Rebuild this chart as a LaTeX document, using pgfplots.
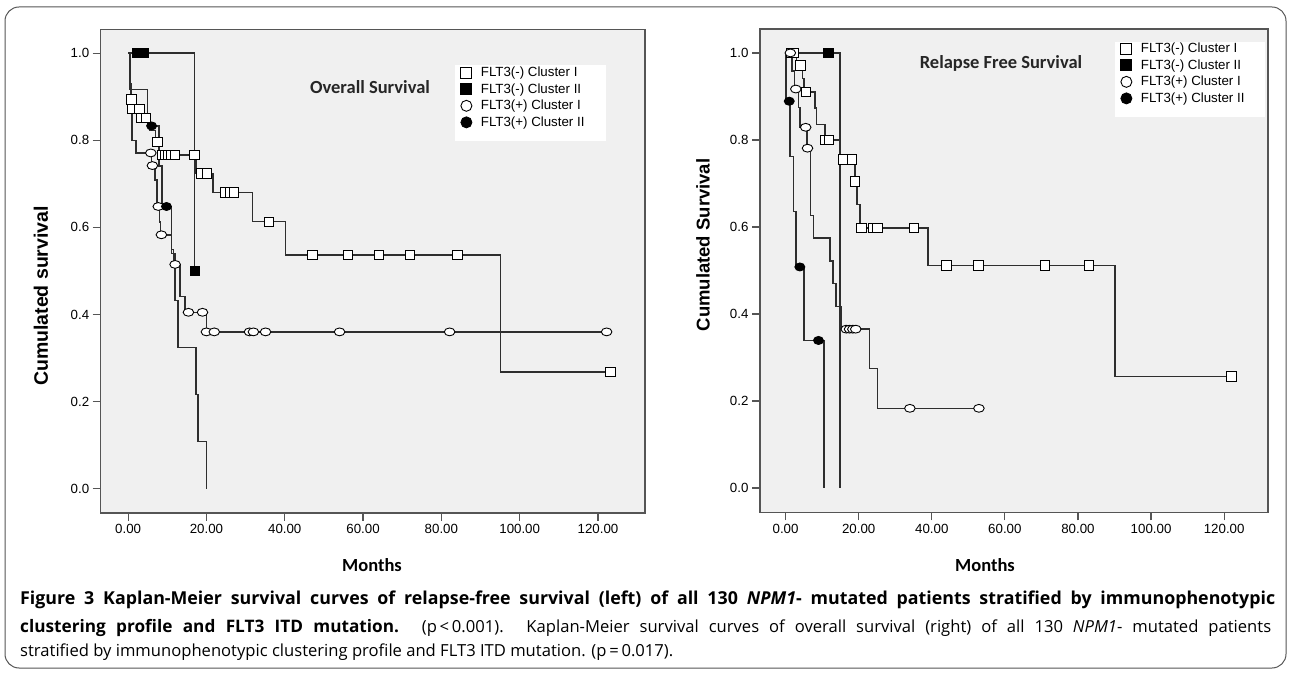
\documentclass[border=0pt]{standalone}
\usepackage{pgfplots}
\pgfplotsset{compat=1.18}
\usepackage{fontspec}
\setmainfont{Liberation Sans}
\newfontfamily\carlito{Carlito}
\newfontfamily\capfont{Open Sans}

\definecolor{bggray}{HTML}{F0F0F0}
\definecolor{curve}{HTML}{2E2E2E}
\definecolor{frame}{HTML}{555555}

% legend shows the mark only
\pgfplotsset{
  legend image code/.code={\draw[#1] plot coordinates {(0pt,0pt)};},
  kmaxis/.style={
    scale only axis,
    xmin=-7, xmax=132, ymin=-0.056, ymax=1.055,
    axis background/.style={fill=bggray},
    axis line style={draw=frame, line width=1.2pt},
    xtick={0,20,40,60,80,100,120},
    ytick={0,0.2,0.4,0.6,0.8,1.0},
    tick align=outside, tick pos=left, major tick length=8pt,
    tick style={draw=frame, line width=1.2pt},
    ticklabel style={font=\fontsize{13.3}{15}\selectfont},
    /pgf/number format/assume math mode=true,
    xticklabel style={/pgf/number format/fixed, /pgf/number format/fixed zerofill, /pgf/number format/precision=2},
    yticklabel style={/pgf/number format/fixed, /pgf/number format/fixed zerofill, /pgf/number format/precision=1},
    legend style={draw=none, fill=none, anchor=north west, inner sep=0pt,
      font=\fontsize{13.3}{15}\selectfont, row sep=5.4pt, column sep=9pt,
      nodes={inner sep=0pt}},
    legend cell align=left,
  },
  steps/.style={const plot, no marks, draw=curve, line width=1.5pt, forget plot},
  cens/.style={only marks, forget plot},
  csq/.style={cens, mark=square*, mark size=4.7pt, mark options={fill=white, draw=black, line width=0.9pt}},
  csqf/.style={cens, mark=square*, mark size=4.7pt, mark options={fill=black, draw=black, line width=0.9pt}},
  cci/.style={cens, mark=*, mark size=5.3pt, mark options={fill=white, draw=black, line width=0.9pt, yscale=0.74}},
  ccif/.style={cens, mark=*, mark size=5pt, mark options={fill=black, draw=black, line width=0.9pt, yscale=0.8}},
  legsq/.style={mark=square*, mark size=5.5pt, mark options={fill=white, draw=black, line width=0.9pt}},
  legsqf/.style={mark=square*, mark size=5.5pt, mark options={fill=black, draw=black, line width=0.9pt}},
  legci/.style={mark=*, mark size=5.5pt, mark options={fill=white, draw=black, line width=0.9pt}},
  legcif/.style={mark=*, mark size=5.5pt, mark options={fill=black, draw=black, line width=0.9pt}},
}

\begin{document}
\begin{tikzpicture}[x=1pt,y=1pt]
\path[use as bounding box] (0,0) rectangle (1290,672);
\draw[frame, line width=1pt, rounded corners=14pt] (5,665) rectangle (1286,4);

% ---------------- Overall Survival ----------------
\begin{axis}[kmaxis, at={(100.7pt,159pt)}, anchor=south west,
  width=544.3pt, height=483.7pt,
  legend style={at={(0.6614,0.9221)}}]
\fill[white] (axis description cs:0.651,0.926) rectangle (axis description cs:0.928,0.769);

% FLT3(-) Cluster I
\addplot[steps] coordinates {(0,1) (0.3,0.936) (0.6,0.894) (1.0,0.872) (3.2,0.851) (5.5,0.823)
  (7.0,0.796) (8.0,0.766) (17.4,0.724) (21.7,0.680) (31.8,0.613) (40.2,0.537) (95.1,0.268) (123.2,0.268)};
% FLT3(-) Cluster II
\addplot[steps] coordinates {(0,1) (16.95,0.5) (17.0,0.5)};
% FLT3(+) Cluster I
\addplot[steps] coordinates {(0,1) (0.3,0.93) (0.7,0.87) (1.0,0.80) (2.0,0.771) (6.0,0.742) (6.9,0.709)
  (7.4,0.648) (8.0,0.612) (8.3,0.583) (11.1,0.549) (11.6,0.515) (13.2,0.441) (14.5,0.405) (20.0,0.360) (122.2,0.360)};
% FLT3(+) Cluster II
\addplot[steps] coordinates {(0,1) (0.5,0.917) (4.9,0.833) (7.9,0.741) (8.6,0.648) (11.1,0.540)
  (12.0,0.432) (12.8,0.324) (17.3,0.216) (17.9,0.108) (20.0,0)};

\addplot[csq] coordinates {(0.9,0.894) (1.1,0.872) (2.9,0.872) (3.4,0.851) (4.5,0.851)
  (7.5,0.796) (8.7,0.766) (9.5,0.766) (10.3,0.766) (11.1,0.766) (11.9,0.766) (16.9,0.766)
  (18.6,0.724) (20.2,0.724) (24.8,0.680) (26.0,0.680) (27.0,0.680) (36.0,0.613)
  (47.1,0.537) (56.2,0.537) (64.0,0.537) (72.0,0.537) (84.1,0.537) (123.2,0.268)};
\addplot[csqf] coordinates {(2.2,1) (3.0,1) (3.9,1) (17.0,0.5)};
\addplot[cci] coordinates {(5.8,0.771) (6.2,0.742) (7.7,0.648) (8.5,0.583) (12.0,0.515) (15.4,0.405)
  (19.0,0.405) (20.0,0.360) (22.0,0.360) (31.0,0.360) (32.0,0.360) (35.1,0.360) (54.0,0.360)
  (82.1,0.360) (122.2,0.360)};
\addplot[ccif] coordinates {(6.0,0.833) (9.8,0.648)};

\addlegendimage{legsq}\addlegendentry{FLT3(-) Cluster I}
\addlegendimage{legsqf}\addlegendentry{FLT3(-) Cluster II}
\addlegendimage{legci}\addlegendentry{FLT3(+) Cluster I}
\addlegendimage{legcif}\addlegendentry{FLT3(+) Cluster II}
\end{axis}

% ---------------- Relapse Free Survival ----------------
\begin{axis}[kmaxis, at={(760pt,159.7pt)}, anchor=south west,
  width=508pt, height=483.3pt,
  legend style={at={(0.710,0.971)}}]
\fill[white] (axis description cs:0.699,0.973) rectangle (axis description cs:0.994,0.818);

% FLT3(-) Cluster I
\addplot[steps] coordinates {(0,1) (3.0,0.971) (4.6,0.941) (5.0,0.910) (8.0,0.873) (8.5,0.835)
  (10.8,0.800) (14.9,0.755) (19.0,0.705) (19.6,0.651) (20.3,0.597) (39.0,0.511) (90.1,0.256) (122.0,0.256)};
% FLT3(-) Cluster II
\addplot[steps] coordinates {(0,1) (14.9,0)};
% FLT3(+) Cluster I
\addplot[steps] coordinates {(0,1) (1.8,0.958) (2.4,0.917) (3.5,0.875) (4.0,0.829) (5.8,0.781)
  (6.8,0.626) (7.6,0.574) (12.1,0.522) (13.0,0.470) (13.8,0.417) (15.3,0.365) (22.9,0.274)
  (25.1,0.183) (52.9,0.183)};
% FLT3(+) Cluster II
\addplot[steps] coordinates {(0,1) (0.1,0.889) (1.2,0.762) (2.1,0.635) (2.9,0.508) (5.0,0.339) (10.5,0)};

\addplot[csq] coordinates {(1.5,1) (2.3,1) (4.1,0.971) (5.5,0.910) (10.9,0.800)
  (11.9,0.800) (15.8,0.755) (18.1,0.755) (19.0,0.705) (20.8,0.597) (24.0,0.597) (25.1,0.597)
  (35.1,0.597) (44.0,0.511) (52.8,0.511) (70.9,0.511) (83.0,0.511) (122.0,0.256)};
\addplot[csqf] coordinates {(11.7,1)};
\addplot[cci] coordinates {(1.3,1) (2.8,0.917) (5.5,0.829) (6.0,0.781) (16.6,0.365) (17.5,0.365)
  (18.4,0.365) (19.2,0.365) (34.0,0.183) (52.9,0.183)};
\addplot[ccif] coordinates {(1.0,0.889) (3.9,0.508) (9.0,0.339)};

\addlegendimage{legsq}\addlegendentry{FLT3(-) Cluster I}
\addlegendimage{legsqf}\addlegendentry{FLT3(-) Cluster II}
\addlegendimage{legci}\addlegendentry{FLT3(+) Cluster I}
\addlegendimage{legcif}\addlegendentry{FLT3(+) Cluster II}
\end{axis}

% titles and axis labels
\node[font=\carlito\bfseries\fontsize{18.5}{20}\selectfont, text=black!85] at (370,585) {Overall Survival};
\node[font=\carlito\bfseries\fontsize{18.5}{20}\selectfont, text=black!85] at (1001,609) {Relapse Free Survival};
\node[font=\bfseries\fontsize{19.5}{21}\selectfont, rotate=90] at (41,376) {Cumulated survival};
\node[font=\bfseries\fontsize{18.5}{20}\selectfont, rotate=90] at (703,427) {Cumulated Survival};
\node[font=\carlito\bfseries\fontsize{18.5}{20}\selectfont] at (372,107) {Months};
\node[font=\carlito\bfseries\fontsize{18.5}{20}\selectfont] at (985,107) {Months};

% caption
\begin{scope}[every node/.style={anchor=base west, inner sep=0pt, font=\capfont\fontsize{16.6}{18}\selectfont}]
\node at (20,67) {\makebox[1255pt][s]{\fontsize{17.8}{19}\selectfont\bfseries Figure 3 Kaplan-Meier survival curves of relapse-free survival (left) of all 130 \textit{NPM1}- mutated patients stratified by immunophenotypic}};
\node at (20,40) {\makebox[1251pt][s]{{\fontsize{17.2}{19}\selectfont\bfseries clustering profile and FLT3 ITD mutation.} (p\,<\,0.001). Kaplan-Meier survival curves of overall survival (right) of all 130 \textit{NPM1}- mutated patients}};
\node at (20,16) {stratified by immunophenotypic clustering profile and FLT3 ITD mutation. (p\,=\,0.017).};
\end{scope}
\end{tikzpicture}
\end{document}
